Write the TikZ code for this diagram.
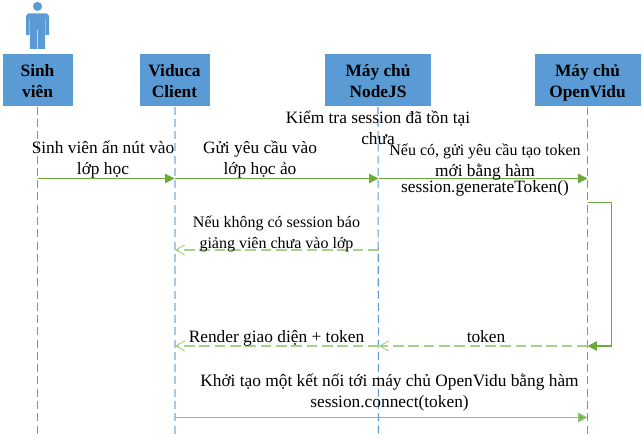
\documentclass[tikz,border=0pt]{standalone}
\usepackage{fontspec}
\setmainfont{Liberation Serif}
\usetikzlibrary{arrows.meta}
\definecolor{boxblue}{HTML}{5B9BD5}
\definecolor{lineblue}{HTML}{5B9BD5}
\definecolor{paleblue}{HTML}{A9C7E6}
\definecolor{msggreen}{HTML}{6AAB3C}
\definecolor{midgreen}{HTML}{8FC06C}
\definecolor{palegreen}{HTML}{A9D18E}
\newcommand{\toprow}{\rule{0pt}{15pt}}
\tikzset{
  x=0.75pt,y=-0.75pt,
  actorbox/.style={draw=white,line width=0.4pt,fill=boxblue,inner sep=0pt,align=center,font=\fontsize{13}{15.75}\selectfont\bfseries},
  lifeline/.style={draw=lineblue,line width=0.8pt,dash pattern=on 6pt off 3.2pt},
  palelife/.style={draw=paleblue,line width=1.5pt,dash pattern=on 6pt off 3.2pt},
  sync/.style={draw=msggreen,line width=0.9pt,-{Triangle[length=7pt,width=7pt,fill=msggreen]}},
  reply/.style={draw=palegreen,line width=1.3pt,dash pattern=on 8pt off 3.5pt,-{Straight Barb[length=7pt,width=7.5pt,line width=0.7pt]}},
  lbl/.style={align=center,inner sep=0pt,font=\fontsize{13}{15.75}\selectfont},
}
\begin{document}
\begin{tikzpicture}
\useasboundingbox (0,0) rectangle (643,438);
% actor
\fill[boxblue] (37.5,6.4) ellipse (4.6 and 4.5);
\fill[boxblue] (26,16) -- (26,35) -- (29.3,35) -- (29.3,19) -- (29.8,19) -- (29.8,49) -- (37.2,49) -- (37.2,30) -- (37.8,30) -- (37.8,49) -- (45.2,49) -- (45.2,19) -- (45.7,19) -- (45.7,35) -- (49,35) -- (49,16) -- (47,13.5) -- (28,13.5) -- cycle;
% boxes
\node[actorbox,minimum width=53.5pt,minimum height=39.5pt] (sv) at (37.5,80) {\toprow Sinh\\\strut viên};
\node[actorbox,minimum width=53.5pt,minimum height=39.5pt] (vc) at (174.5,80) {\toprow Viduca\\\strut Client};
\node[actorbox,minimum width=80pt,minimum height=39.5pt] (nj) at (378,80) {\toprow Máy chủ\\\strut NodeJS};
\node[actorbox,minimum width=80pt,minimum height=39.5pt] (ov) at (587.5,80) {\toprow Máy chủ\\\strut OpenVidu};
% lifeline ends
\coordinate (svend) at (37.5,438);
\coordinate (vcend) at (174.5,438);
\coordinate (njend) at (378.5,438);
\coordinate (ovend) at (587.5,438);
\draw[lifeline] (sv.south) -- (svend);
\draw[palelife] (vc.south) -- (vcend);
\draw[lifeline] (nj.south) -- (njend);
\draw[lifeline] (ov.south) -- (ovend);
% message anchors
\coordinate (m1a) at (37.5,178.5);
\coordinate (m1b) at (174.5,178.5);
\coordinate (m1c) at (378.5,178.5);
\coordinate (m1d) at (587.5,178.5);
\coordinate (m2a) at (378.5,250);
\coordinate (m2b) at (174.5,250);
\coordinate (l1) at (587.5,202.5);
\coordinate (l2) at (611.5,202.5);
\coordinate (l3) at (611.5,346);
\coordinate (l4) at (587.5,346);
\coordinate (m3a) at (587.5,346);
\coordinate (m3b) at (378.5,346);
\coordinate (m3c) at (174.5,346);
\coordinate (m4a) at (174.5,417.5);
\coordinate (m4b) at (587.5,417.5);
% messages
\draw[sync] (m1a) -- (m1b);
\draw[sync] (m1b) -- (m1c);
\draw[sync] (m1c) -- (m1d);
\draw[reply,line width=1pt] (m2a) -- (m2b);
\draw[reply] (m3a) -- (m3b);
\draw[reply] (m3b) -- (m3c);
\draw[sync,line width=1pt] (l1) -- (l2) -- (l3) -- (l4);
\draw[sync,draw=midgreen,line width=1.3pt] (m4a) -- (m4b);
% labels
\node[lbl] (t1) at (103,159.5) {\strut Sinh viên ấn nút vào\\\strut lớp học};
\node[lbl] (t2) at (260,159.5) {\strut Gửi yêu cầu vào\\\strut lớp học ảo};
\node[lbl] (t3) at (378,129.5) {\strut Kiểm tra session đã tồn tại\\\strut chưa};
\node[lbl,font=\fontsize{12}{15.75}\selectfont] (t4) at (485,170) {\strut Nếu có, gửi yêu cầu tạo token\\\fontsize{13}{15.75}\selectfont\strut mới bằng hàm\\[-3.75pt]\fontsize{13}{15.75}\selectfont\strut session.generateToken()};
\node[lbl,font=\fontsize{12}{15.75}\selectfont] (t5) at (276.5,233.5) {\strut Nếu không có session báo\\\strut giảng viên chưa vào lớp};
\node[lbl] (t6) at (276.5,338) {\strut Render giao diện + token};
\node[lbl] (t7) at (486,338) {\strut token};
\node[lbl] (t8) at (389.5,392.5) {\strut Khởi tạo một kết nối tới máy chủ OpenVidu bằng hàm\\\strut session.connect(token)};
\end{tikzpicture}
\end{document}
